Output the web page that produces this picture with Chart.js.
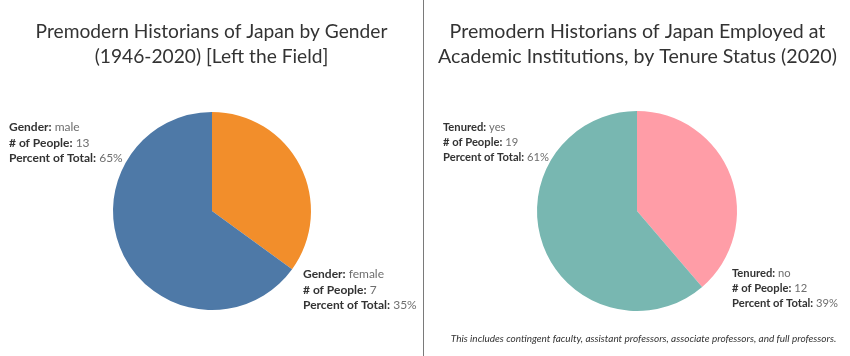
<!DOCTYPE html>
<html>
<head>
<meta charset="utf-8">
<script src="https://cdn.jsdelivr.net/npm/chart.js@4/dist/chart.umd.min.js"></script>
<style>
  html, body { margin: 0; padding: 0; background: #ffffff; }
  #wrap { position: relative; width: 850px; height: 356px; overflow: hidden; }
  #c1 { position: absolute; left: 0; top: 0; }
  #c2 { position: absolute; left: 425px; top: 0; }
  #divider { position: absolute; left: 423px; top: 0; width: 1px; height: 356px; background: #7a7a7a; }
</style>
</head>
<body>
<div id="wrap">
  <canvas id="c1" width="423" height="356"></canvas>
  <div id="divider"></div>
  <canvas id="c2" width="425" height="356"></canvas>
</div>
<script>
// ---- Data ----
const genderTitle = ["Premodern Historians of Japan by Gender", "(1946-2020) [Left the Field]"];
const genderCategories = ["female", "male"];
const genderCounts = [7, 13];
const genderPercents = ["35%", "65%"];
const genderKey = "Gender";

const tenureTitle = ["Premodern Historians of Japan Employed at", "Academic Institutions, by Tenure Status (2020)"];
const tenureCategories = ["no", "yes"];
const tenureCounts = [12, 19];
const tenurePercents = ["39%", "61%"];
const tenureKey = "Tenured";
const tenureNote = "This includes contingent faculty, assistant professors, associate professors, and full professors.";

const genderColors = ["#F28E2B", "#4E79A7"];
const tenureColors = ["#FF9DA7", "#78B7B1"];

const TITLE_FONT = 'Lato, "Open Sans", sans-serif';
const LABEL_FONT = 'Lato, "Open Sans", sans-serif';

function drawLabelBlock(ctx, x, y, rows, size, gap) {
  rows.forEach((r, i) => {
    const by = y + i * gap;
    ctx.font = 'bold ' + size + 'px ' + LABEL_FONT;
    ctx.fillStyle = '#333333';
    ctx.textAlign = 'left';
    ctx.textBaseline = 'alphabetic';
    ctx.fillText(r[0] + ':', x, by);
    const w = ctx.measureText(r[0] + ':').width;
    ctx.font = size + 'px ' + LABEL_FONT;
    ctx.fillStyle = '#6e6e6e';
    ctx.fillText(' ' + r[1], x + w, by);
  });
}

function makePlugin(cfg) {
  return {
    id: 'decor' + cfg.id,
    afterDraw(chart) {
      const ctx = chart.ctx;
      const cx = chart.width / 2;
      ctx.save();
      ctx.font = cfg.titleSize + 'px ' + TITLE_FONT;
      ctx.fillStyle = '#333333';
      ctx.textAlign = 'center';
      ctx.textBaseline = 'alphabetic';
      cfg.title.forEach((t, i) => ctx.fillText(t, cx, 38 + i * 25));
      cfg.categories.forEach((cat, i) => {
        const pos = cfg.labelPos[i];
        drawLabelBlock(ctx, pos.x, pos.y, [
          [cfg.key, cat],
          ['# of People', String(cfg.counts[i])],
          ['Percent of Total', cfg.percents[i]]
        ], cfg.labelSize, cfg.labelGap);
      });
      if (cfg.note) {
        ctx.font = 'italic 10px ' + LABEL_FONT;
        ctx.fillStyle = '#333333';
        ctx.textAlign = 'center';
        ctx.fillText(cfg.note, cx + 6, 342);
      }
      ctx.restore();
    }
  };
}

function makeChart(id, cfg, padding) {
  return new Chart(document.getElementById(id), {
    type: 'pie',
    data: {
      labels: cfg.categories,
      datasets: [{
        data: cfg.counts,
        backgroundColor: cfg.colors,
        borderWidth: 0
      }]
    },
    options: {
      responsive: false,
      animation: false,
      devicePixelRatio: 1,
      layout: { padding: padding },
      plugins: { legend: { display: false }, tooltip: { enabled: false }, title: { display: false } }
    },
    plugins: [makePlugin(cfg)]
  });
}

makeChart('c1', {
  id: 1, title: genderTitle, titleSize: 19.2, categories: genderCategories, counts: genderCounts,
  percents: genderPercents, key: genderKey, colors: genderColors,
  labelSize: 12, labelGap: 15.5,
  labelPos: [{x: 303, y: 278}, {x: 9, y: 131}]
}, {top: 112, bottom: 46, left: 113, right: 112});

makeChart('c2', {
  id: 2, title: tenureTitle, titleSize: 19.6, categories: tenureCategories, counts: tenureCounts,
  percents: tenurePercents, key: tenureKey, colors: tenureColors,
  labelSize: 11.2, labelGap: 14.8,
  labelPos: [{x: 307, y: 277}, {x: 18, y: 131}], note: tenureNote
}, {top: 111, bottom: 45, left: 112, right: 113});
</script>
</body>
</html>
